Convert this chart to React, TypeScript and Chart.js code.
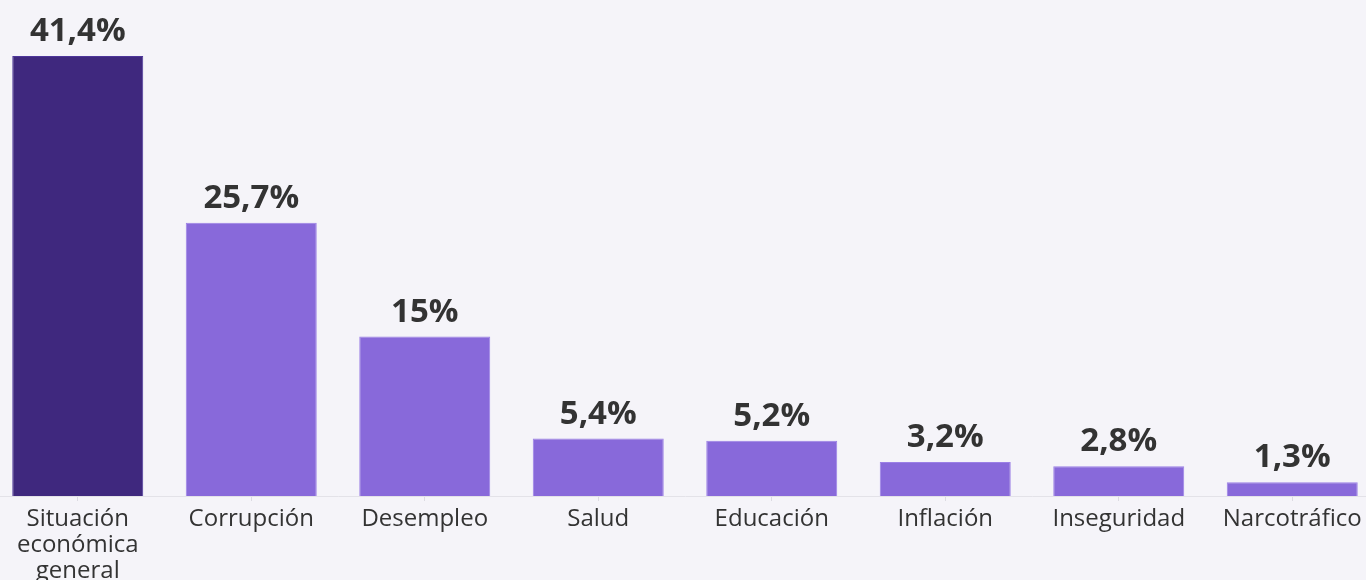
import React, { useEffect, useRef } from "react";
import { Chart, registerables } from "chart.js";

Chart.register(...registerables);

const categories: (string | string[])[] = [
  ["Situación", "económica", "general"],
  "Corrupción",
  "Desempleo",
  "Salud",
  "Educación",
  "Inflación",
  "Inseguridad",
  "Narcotráfico",
];
const values = [41.4, 25.7, 15, 5.4, 5.2, 3.2, 2.8, 1.3];
const valueLabels = ["41,4%", "25,7%", "15%", "5,4%", "5,2%", "3,2%", "2,8%", "1,3%"];

const DARK = "#3f287e";
const LIGHT = "#8869da";
const BG = "#f5f4f9";

const labelPlugin = {
  id: "valueLabels",
  afterDatasetsDraw(chart: any) {
    const ctx = chart.ctx;
    const meta = chart.getDatasetMeta(0);
    ctx.save();
    ctx.font = "bold 33px 'Open Sans', sans-serif";
    ctx.fillStyle = "#333333";
    ctx.textAlign = "center";
    ctx.textBaseline = "alphabetic";
    meta.data.forEach((bar: any, i: number) => {
      ctx.fillText(valueLabels[i], bar.x, bar.y - 15);
    });
    ctx.restore();
  },
};

export default function App() {
  const ref = useRef<HTMLCanvasElement | null>(null);
  useEffect(() => {
    document.body.style.margin = "0";
    document.body.style.overflow = "hidden";
    document.body.style.background = BG;
    const chart = new Chart(ref.current!, {
      type: "bar",
      data: {
        labels: categories,
        datasets: [
          {
            data: values,
            backgroundColor: values.map((_, i) => (i === 0 ? DARK : LIGHT)),
            borderColor: values.map((_, i) => (i === 0 ? "#4d369a" : "#9b80e6")),
            borderWidth: 1,
            categoryPercentage: 1,
            barPercentage: 0.755,
          },
        ],
      },
      options: {
        animation: false,
        responsive: false,
        maintainAspectRatio: false,
        layout: { padding: { top: 7, bottom: 0, left: 0, right: 0 } },
        plugins: { legend: { display: false }, tooltip: { enabled: false } },
        scales: {
          x: {
            grid: {
              offset: false,
              drawOnChartArea: false,
              drawTicks: true,
              tickLength: 5,
              color: "#dcdbe2",
            },
            border: { color: "#e3e2e8", width: 1 },
            ticks: {
              color: "#333333",
              font: { family: "'Open Sans', sans-serif", size: 24, lineHeight: 1.08 },
              padding: 5,
              maxRotation: 0,
              autoSkip: false,
            },
            afterFit(scale: any) {
              scale.height = 84;
            },
          },
          y: {
            display: false,
            min: 0,
            max: 46,
          },
        },
      },
      plugins: [labelPlugin],
    });
    return () => chart.destroy();
  }, []);
  return (
    <div style={{ position: "fixed", left: 0, top: 0, width: 1366, height: 580, background: BG, overflow: "hidden" }}>
      <canvas
        ref={ref}
        width={1388}
        height={580}
        style={{ position: "absolute", left: -9, top: 0, width: 1388, height: 580 }}
      />
    </div>
  );
}
